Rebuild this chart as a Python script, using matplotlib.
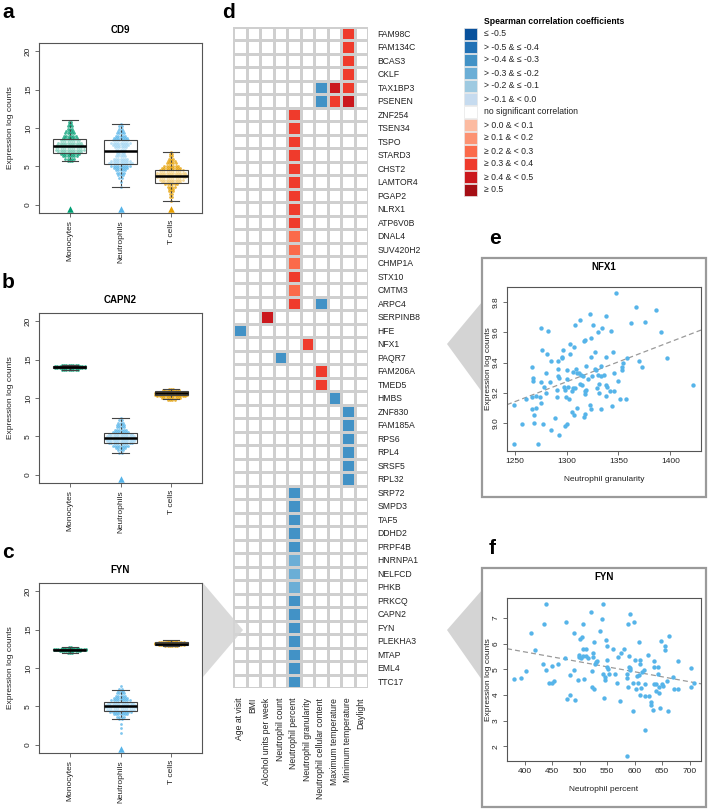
import numpy as np
import matplotlib
matplotlib.use("Agg")
import matplotlib.pyplot as plt
from matplotlib.colors import ListedColormap
from matplotlib.patches import Rectangle, Polygon

plt.rcParams['font.family'] = ['Liberation Sans', 'DejaVu Sans']

W, H = 708, 809

# ---------------- panels a-c : beeswarm + box plots ----------------
cell_types = ['Monocytes', 'Neutrophils', 'T cells']
cell_colors = ['#009E73', '#56B4E9', '#E69F00']

# CD9
cd9_mono_lv = [5.7, 6.0, 6.3, 6.6, 6.9, 7.2, 7.5, 7.8, 8.1, 8.4, 8.7, 9.0, 9.3, 9.6, 9.9, 10.2, 10.5, 10.8]
cd9_mono_n = [3, 5, 7, 9, 11, 13, 13, 12, 11, 9, 7, 6, 5, 4, 3, 3, 2, 2]
cd9_neut_lv = [2.4, 3.0, 3.5, 3.9, 4.2, 4.5, 4.8, 5.1, 5.4, 5.7, 6.0, 6.3, 6.6, 6.9, 7.2, 7.5, 7.8,
               8.1, 8.4, 8.7, 9.0, 9.3, 9.6, 9.9, 10.2, 10.5]
cd9_neut_n = [1, 1, 2, 3, 4, 5, 7, 9, 11, 9, 7, 5, 4, 4, 5, 6, 8, 9, 8, 7, 5, 4, 3, 2, 2, 1]
cd9_t_lv = [0.5, 1.0, 1.4, 1.8, 2.1, 2.4, 2.7, 3.0, 3.3, 3.6, 3.9, 4.2, 4.5, 4.8, 5.1, 5.4, 5.7,
            6.0, 6.3, 6.6, 6.9]
cd9_t_n = [1, 2, 2, 3, 3, 4, 6, 9, 11, 13, 14, 13, 11, 9, 7, 5, 4, 3, 2, 2, 1]
cd9_box = [[5.7, 6.8, 7.6, 8.6, 11.0], [2.3, 5.3, 7.0, 8.5, 10.5], [0.5, 2.9, 3.8, 4.6, 6.9]]
cd9_below = [True, True, True]

# CAPN2
capn2_mono_lv = [13.7, 13.85, 14.0, 14.15, 14.3]
capn2_mono_n = [8, 14, 14, 14, 8]
capn2_neut_lv = [2.8, 3.2, 3.5, 3.8, 4.1, 4.4, 4.7, 5.0, 5.3, 5.6, 5.9, 6.2, 6.5, 6.8, 7.1, 7.4]
capn2_neut_n = [2, 3, 5, 8, 11, 13, 14, 13, 11, 8, 6, 4, 4, 3, 2, 1]
capn2_t_lv = [9.8, 10.0, 10.2, 10.4, 10.6, 10.8, 11.0, 11.2]
capn2_t_n = [4, 9, 13, 15, 15, 13, 8, 3]
capn2_box = [[13.7, 13.95, 14.05, 14.15, 14.3], [2.8, 4.1, 4.8, 5.4, 7.35], [9.9, 10.45, 10.7, 10.85, 11.2]]
capn2_below = [False, True, False]

# FYN
fyn_mono_lv = [12.0, 12.15, 12.3, 12.45, 12.6, 12.75]
fyn_mono_n = [3, 10, 15, 15, 8, 2]
fyn_neut_lv = [1.6, 2.2, 2.7, 3.4, 3.7, 4.0, 4.3, 4.6, 4.9, 5.2, 5.5, 5.8, 6.1, 6.4, 6.7, 7.0, 7.3, 7.6]
fyn_neut_n = [1, 1, 1, 2, 4, 7, 10, 13, 15, 14, 12, 9, 7, 5, 4, 3, 2, 1]
fyn_t_lv = [12.8, 12.95, 13.1, 13.25, 13.4, 13.55]
fyn_t_n = [6, 12, 15, 15, 12, 5]
fyn_box = [[12.0, 12.3, 12.4, 12.5, 12.7], [3.4, 4.4, 5.05, 5.55, 7.1], [12.8, 13.0, 13.15, 13.35, 13.6]]
fyn_below = [False, True, False]

# ---------------- panel d : correlation heatmap ----------------
genes = ['FAM98C', 'FAM134C', 'BCAS3', 'CKLF', 'TAX1BP3', 'PSENEN', 'ZNF254', 'TSEN34', 'TSPO',
         'STARD3', 'CHST2', 'LAMTOR4', 'PGAP2', 'NLRX1', 'ATP6V0B', 'DNAL4', 'SUV420H2', 'CHMP1A',
         'STX10', 'CMTM3', 'ARPC4', 'SERPINB8', 'HFE', 'NFX1', 'PAQR7', 'FAM206A', 'TMED5', 'HMBS',
         'ZNF830', 'FAM185A', 'RPS6', 'RPL4', 'SRSF5', 'RPL32', 'SRP72', 'SMPD3', 'TAF5', 'DDHD2',
         'PRPF4B', 'HNRNPA1', 'NELFCD', 'PHKB', 'PRKCQ', 'CAPN2', 'FYN', 'PLEKHA3', 'MTAP', 'EML4',
         'TTC17']
variables = ['Age at visit', 'BMI', 'Alcohol units per week', 'Neutrophil count',
             'Neutrophil percent', 'Neutrophil granularity', 'Neutrophil cellular content',
             'Maximum temperature', 'Minimum temperature', 'Daylight']

hit_genes = ['FAM98C', 'FAM134C', 'BCAS3', 'CKLF',
             'TAX1BP3', 'TAX1BP3', 'TAX1BP3', 'PSENEN', 'PSENEN', 'PSENEN',
             'ZNF254', 'TSEN34', 'TSPO', 'STARD3', 'CHST2', 'LAMTOR4', 'PGAP2', 'NLRX1', 'ATP6V0B',
             'DNAL4', 'SUV420H2', 'CHMP1A', 'STX10', 'CMTM3', 'ARPC4', 'ARPC4',
             'SERPINB8', 'HFE', 'NFX1', 'PAQR7', 'FAM206A', 'TMED5', 'HMBS',
             'ZNF830', 'FAM185A', 'RPS6', 'RPL4', 'SRSF5', 'RPL32',
             'SRP72', 'SMPD3', 'TAF5', 'DDHD2', 'PRPF4B', 'HNRNPA1', 'NELFCD', 'PHKB',
             'PRKCQ', 'CAPN2', 'FYN', 'PLEKHA3', 'MTAP', 'EML4', 'TTC17']
hit_vars = ['Minimum temperature'] * 4 + \
           ['Neutrophil cellular content', 'Maximum temperature', 'Minimum temperature'] * 2 + \
           ['Neutrophil percent'] * 15 + ['Neutrophil cellular content'] + \
           ['Alcohol units per week', 'Age at visit', 'Neutrophil granularity', 'Neutrophil count',
            'Neutrophil cellular content', 'Neutrophil cellular content', 'Maximum temperature'] + \
           ['Minimum temperature'] * 6 + ['Neutrophil percent'] * 15
hit_rho = [0.33, 0.33, 0.33, 0.33,
           -0.35, 0.42, 0.33, -0.35, 0.33, 0.42,
           0.33, 0.33, 0.33, 0.33, 0.33, 0.33, 0.33, 0.33, 0.33,
           0.27, 0.27, 0.27, 0.33, 0.27, 0.33, -0.35,
           0.42, -0.35, 0.33, -0.35, 0.33, 0.33, -0.35,
           -0.35, -0.35, -0.35, -0.35, -0.35, -0.35,
           -0.35, -0.35, -0.35, -0.35, -0.35, -0.28, -0.28, -0.28,
           -0.35, -0.35, -0.35, -0.35, -0.35, -0.35, -0.35]

legend_labels = ['\u2264 -0.5', '> -0.5 & \u2264 -0.4', '> -0.4 & \u2264 -0.3', '> -0.3 & \u2264 -0.2',
                 '> -0.2 & \u2264 -0.1', '> -0.1 & < 0.0', 'no significant correlation',
                 '> 0.0 & < 0.1', '\u2265 0.1 & < 0.2', '\u2265 0.2 & < 0.3', '\u2265 0.3 & < 0.4',
                 '\u2265 0.4 & < 0.5', '\u2265 0.5']
legend_colors = ['#08519C', '#2171B5', '#4292C6', '#6BAED6', '#9ECAE1', '#C6DBEF', '#FFFFFF',
                 '#FCBBA1', '#FC9272', '#FB6A4A', '#EF3B2C', '#CB181D', '#A50F15']

# ---------------- panels e, f : scatter plots ----------------
nfx1_gran = [1249.4, 1249.4, 1257.3, 1261.2, 1266.6, 1266.9, 1267.2, 1267.6, 1267.6, 1268.5,
             1268.8, 1270.4, 1270.7, 1272.7, 1274.6, 1275.2, 1275.5, 1275.5, 1276.5, 1277.4,
             1278.4, 1280.3, 1280.6, 1281.6, 1282.6, 1284.5, 1285.4, 1285.4, 1288.6, 1291.2,
             1291.2, 1291.5, 1291.5, 1291.8, 1292.5, 1292.8, 1295.3, 1296.0, 1296.6, 1297.6,
             1298.2, 1298.5, 1299.5, 1300.4, 1300.4, 1300.8, 1301.7, 1302.7, 1303.3, 1303.6,
             1304.9, 1305.2, 1305.9, 1306.5, 1306.8, 1306.8, 1307.8, 1308.4, 1308.7, 1309.7,
             1309.7, 1311.6, 1312.6, 1312.9, 1313.5, 1314.8, 1315.5, 1316.4, 1316.8, 1317.3,
             1317.7, 1318.0, 1318.0, 1318.6, 1318.6, 1320.5, 1322.5, 1322.5, 1323.4, 1323.4,
             1323.8, 1324.7, 1325.0, 1327.6, 1327.6, 1328.5, 1329.5, 1330.1, 1330.4, 1330.8,
             1331.4, 1332.7, 1333.0, 1333.3, 1334.6, 1335.9, 1337.5, 1337.5, 1337.8, 1338.4,
             1339.1, 1341.6, 1342.6, 1343.8, 1344.8, 1345.8, 1346.1, 1347.7, 1349.9, 1351.8,
             1353.4, 1353.7, 1354.4, 1357.6, 1357.9, 1361.7, 1366.8, 1370.0, 1372.2, 1375.8,
             1386.0, 1391.1, 1397.1, 1422.0]
nfx1_expr = [9.12, 8.86, 8.99, 9.16, 9.09, 9.17, 9.37, 9.30, 9.28, 9.05,
             9.00, 9.18, 9.10, 8.86, 9.17, 9.13, 9.27, 9.63, 9.48, 8.99,
             9.24, 9.20, 9.33, 9.46, 9.61, 9.27, 9.41, 8.95, 9.03, 9.22,
             9.17, 9.41, 9.36, 9.31, 9.30, 8.92, 9.43, 9.44, 9.48, 9.24,
             9.22, 8.98, 9.17, 8.99, 9.35, 9.29, 9.24, 9.16, 9.52, 9.46,
             9.21, 9.07, 9.34, 9.23, 9.50, 9.05, 9.23, 9.65, 9.36, 9.33,
             9.10, 9.33, 9.68, 9.26, 9.32, 9.25, 9.31, 9.04, 9.54, 9.21,
             9.55, 9.19, 9.06, 9.38, 9.22, 9.29, 9.72, 9.12, 9.09, 9.44,
             9.56, 9.31, 9.65, 9.47, 9.36, 9.35, 9.23, 9.32, 9.60, 9.20,
             9.26, 9.09, 9.38, 9.31, 9.63, 9.32, 9.71, 9.44, 9.18, 9.25,
             9.24, 9.21, 9.61, 9.11, 9.47, 9.21, 9.33, 9.86, 9.28, 9.16,
             9.35, 9.37, 9.40, 9.16, 9.43, 9.66, 9.77, 9.41, 9.37, 9.67,
             9.75, 9.60, 9.43, 9.25]

fyn_pct = [380.6, 392.7, 402.4, 411.5, 418.8, 433.9, 434.5, 438.1, 438.7, 443.5,
           449.6, 450.2, 453.2, 459.9, 473.2, 475.6, 477.4, 481.7, 482.3, 488.9,
           490.1, 491.9, 497.4, 498.0, 499.2, 500.4, 502.2, 503.4, 505.2, 505.8,
           506.5, 507.1, 510.7, 511.3, 514.9, 521.0, 522.2, 522.8, 524.6, 524.6,
           525.8, 525.8, 527.6, 528.8, 531.9, 536.1, 540.9, 542.7, 542.7, 544.0,
           545.2, 546.4, 548.2, 549.4, 550.0, 550.6, 551.2, 553.0, 560.9, 563.9,
           568.1, 568.8, 573.0, 574.8, 580.2, 586.3, 586.9, 588.1, 588.7, 589.4,
           590.6, 591.2, 591.7, 592.3, 586.3, 597.2, 597.8, 599.0, 601.4, 602.6,
           605.0, 606.2, 607.5, 608.7, 609.3, 609.9, 610.5, 612.3, 614.1, 616.5,
           618.4, 618.4, 619.0, 623.8, 626.2, 630.4, 630.4, 632.9, 635.3, 635.3,
           635.9, 638.3, 639.5, 641.9, 642.5, 644.4, 645.0, 646.2, 647.4, 650.4,
           652.2, 654.6, 654.6, 659.5, 661.3, 661.9, 669.2, 672.2, 678.8, 678.8,
           701.8, 702.4, 707.9]
fyn_expr = [4.61, 4.66, 4.94, 6.42, 5.77, 5.21, 6.77, 7.55, 4.96, 4.45,
            5.13, 4.45, 4.56, 5.19, 5.45, 6.84, 3.84, 4.79, 4.01, 6.43,
            4.99, 3.81, 4.58, 5.56, 5.48, 6.17, 5.44, 6.25, 5.78, 6.75,
            5.51, 4.61, 5.78, 5.52, 5.45, 7.23, 4.31, 4.94, 5.64, 5.47,
            6.08, 4.25, 5.19, 5.27, 5.34, 6.49, 6.95, 7.53, 4.81, 3.88,
            4.70, 4.60, 6.14, 5.91, 5.09, 5.38, 5.03, 4.82, 5.78, 4.82,
            4.45, 5.48, 3.75, 5.64, 5.78, 4.82, 4.68, 6.78, 4.31, 5.52,
            5.09, 7.17, 4.97, 5.05, 1.64, 3.36, 4.45, 6.86, 5.36, 4.22,
            4.75, 4.48, 4.78, 6.05, 5.21, 5.35, 4.01, 4.26, 4.88, 4.99,
            3.96, 4.43, 2.65, 5.55, 3.95, 3.73, 3.62, 3.40, 5.34, 5.08,
            4.42, 4.16, 4.43, 4.82, 5.10, 4.31, 4.09, 3.51, 6.09, 4.44,
            4.34, 5.90, 5.74, 4.55, 3.38, 6.29, 4.70, 4.25, 4.22, 5.34,
            5.05, 4.30, 4.45]


def fx(x):
    return x / W


def fy(y):
    return 1 - y / H


def px_axes(x0, y0, x1, y1):
    return fig.add_axes([fx(x0), fy(y1), (x1 - x0) / W, (y1 - y0) / H])


def r_style(ax, size=6):
    for s in ax.spines.values():
        s.set_color('#555555')
        s.set_linewidth(0.8)
    ax.tick_params(direction='out', length=3, width=0.6, color='#555555', labelsize=size,
                   labelcolor='#222222', pad=2)
    plt.setp(ax.get_yticklabels(), rotation=90, va='center')


fig = plt.figure(figsize=(W / 100, H / 100), dpi=100)

box_panels = [
    ('a', 'CD9', 13, [(cd9_mono_lv, cd9_mono_n), (cd9_neut_lv, cd9_neut_n), (cd9_t_lv, cd9_t_n)],
     cd9_box, cd9_below),
    ('b', 'CAPN2', 283, [(capn2_mono_lv, capn2_mono_n), (capn2_neut_lv, capn2_neut_n),
                         (capn2_t_lv, capn2_t_n)], capn2_box, capn2_below),
    ('c', 'FYN', 553, [(fyn_mono_lv, fyn_mono_n), (fyn_neut_lv, fyn_neut_n), (fyn_t_lv, fyn_t_n)],
     fyn_box, fyn_below),
]
for letter, gene, top, swarms, boxes, below in box_panels:
    ax = px_axes(39, top + 30, 202, top + 200)
    dx = 0.045
    for i, (lv, n) in enumerate(swarms):
        xs, ys = [], []
        for v, c in zip(lv, n):
            offs = (np.arange(c) - (c - 1) / 2) * dx
            xs.extend(i + 1 + offs)
            ys.extend([v] * c)
        ax.scatter(xs, ys, s=4, color=cell_colors[i], alpha=0.75, lw=0, zorder=2)
        if below[i]:
            ax.scatter([i + 1], [-0.55], marker='^', s=22, color=cell_colors[i], lw=0, zorder=4,
                       clip_on=False)
    stats = [dict(whislo=b[0], q1=b[1], med=b[2], q3=b[3], whishi=b[4], fliers=[]) for b in boxes]
    ax.bxp(stats, positions=[1, 2, 3], widths=0.65, capwidths=0.33, showfliers=False,
           patch_artist=True,
           boxprops=dict(facecolor=(1, 1, 1, 0.45), edgecolor='#444444', lw=0.8),
           medianprops=dict(color='black', lw=1.8),
           whiskerprops=dict(color='#444444', lw=0.8, ls=(0, (2, 1.5))),
           capprops=dict(color='#444444', lw=0.8), zorder=3)
    ax.set_xlim(0.39, 3.61)
    ax.set_ylim(-1.04, 21.04)
    ax.set_yticks([0, 5, 10, 15, 20])
    ax.set_xticks([1, 2, 3])
    ax.set_xticklabels(cell_types, rotation=90)
    ax.set_ylabel('Expression log counts', fontsize=6, color='#222222', labelpad=8)
    r_style(ax)
    fig.text(fx(120), fy(top + 17), gene, ha='center', va='center', fontsize=7, fontweight='bold')
    fig.text(fx(2), fy(top), letter, ha='left', va='center', fontsize=15, fontweight='bold')

# heatmap
mat = np.full((len(genes), len(variables)), 6)
for g, v, r in zip(hit_genes, hit_vars, hit_rho):
    if r < 0:
        c = int(np.digitize(r, [-0.5, -0.4, -0.3, -0.2, -0.1], right=True))
    else:
        c = 7 + int(np.digitize(r, [0.1, 0.2, 0.3, 0.4, 0.5]))
    mat[genes.index(g), variables.index(v)] = c

axh = px_axes(233, 26.5, 368, 688)
axh.pcolormesh(mat, cmap=ListedColormap(legend_colors), vmin=-0.5, vmax=12.5,
               edgecolors='#cfcfcf', linewidth=0.9)
axh.set_xlim(0, len(variables))
axh.set_ylim(len(genes), 0)
axh.yaxis.tick_right()
axh.set_yticks(np.arange(len(genes)) + 0.5)
axh.set_yticklabels(genes, fontsize=6.2, color='#222222')
axh.set_xticks(np.arange(len(variables)) + 0.5)
axh.set_xticklabels(variables, rotation=90, fontsize=6.2, color='#222222')
axh.tick_params(length=0, pad=7)
for s in axh.spines.values():
    s.set_visible(False)
fig.text(fx(222), fy(12), 'd', ha='left', va='center', fontsize=15, fontweight='bold')

# legend
fig.text(fx(484), fy(21), 'Spearman correlation coefficients', ha='left', va='center',
         fontsize=6.2, fontweight='bold')
for i, (lab, col) in enumerate(zip(legend_labels, legend_colors)):
    yc = 34 + 13 * i
    fig.patches.append(Rectangle((fx(464), fy(yc + 6)), 13 / W, 12 / H, transform=fig.transFigure,
                                 facecolor=col, edgecolor='#e6e6e6', lw=0.5))
    fig.text(fx(484), fy(yc), lab, ha='left', va='center', fontsize=6.2, color='#222222')

# callout triangles
tri_col = '#d4d4d4'
fig.patches.append(Polygon([(fx(203), fy(583)), (fx(203), fy(677)), (fx(243), fy(630))],
                           closed=True, transform=fig.transFigure, facecolor=tri_col,
                           edgecolor='none', alpha=0.85, zorder=5))
fig.patches.append(Polygon([(fx(447), fy(344)), (fx(482), fy(302)), (fx(482), fy(392))],
                           closed=True, transform=fig.transFigure, facecolor=tri_col,
                           edgecolor='none', zorder=-1))
fig.patches.append(Polygon([(fx(447), fy(630)), (fx(482), fy(590)), (fx(482), fy(680))],
                           closed=True, transform=fig.transFigure, facecolor=tri_col,
                           edgecolor='none', zorder=-1))

# scatter panels
scatter_panels = [
    ('e', 'NFX1', 258, 497, nfx1_gran, nfx1_expr, (287, 451), (1242.7, 1429.4), (8.812, 9.902),
     [1250, 1300, 1350, 1400], [9.0, 9.2, 9.4, 9.6, 9.8], 'Neutrophil granularity'),
    ('f', 'FYN', 568, 807, fyn_pct, fyn_expr, (598, 761), (367.9, 720.6), (1.43, 7.78),
     [400, 450, 500, 550, 600, 650, 700], [2, 3, 4, 5, 6, 7], 'Neutrophil percent'),
]
for letter, gene, ftop, fbot, xv, yv, (atop, abot), xl, yl, xt, yt, xlab in scatter_panels:
    fig.patches.append(Rectangle((fx(482), fy(fbot)), 224 / W, (fbot - ftop) / H,
                                 transform=fig.transFigure, facecolor='none',
                                 edgecolor='#9a9a9a', lw=1.6))
    ax = px_axes(507, atop, 701, abot)
    ax.scatter(xv, yv, s=10, color='#56B4E9', lw=0, zorder=3)
    slope, icpt = np.polyfit(xv, yv, 1)
    xx = np.array(xl)
    ax.plot(xx, slope * xx + icpt, ls=(0, (4, 2.5)), color='#9a9a9a', lw=0.9, zorder=2)
    ax.set_xlim(xl)
    ax.set_ylim(yl)
    ax.set_xticks(xt)
    ax.set_yticks(yt)
    ax.set_xlabel(xlab, fontsize=6, color='#222222', labelpad=8)
    ax.set_ylabel('Expression log counts', fontsize=6, color='#222222', labelpad=1)
    r_style(ax)
    fig.text(fx(604), fy(ftop + 9), gene, ha='center', va='center', fontsize=7, fontweight='bold')
    fig.text(fx(489), fy(ftop - 20), letter, ha='left', va='center', fontsize=15,
             fontweight='bold')

fig.savefig('out.png', dpi=100)
